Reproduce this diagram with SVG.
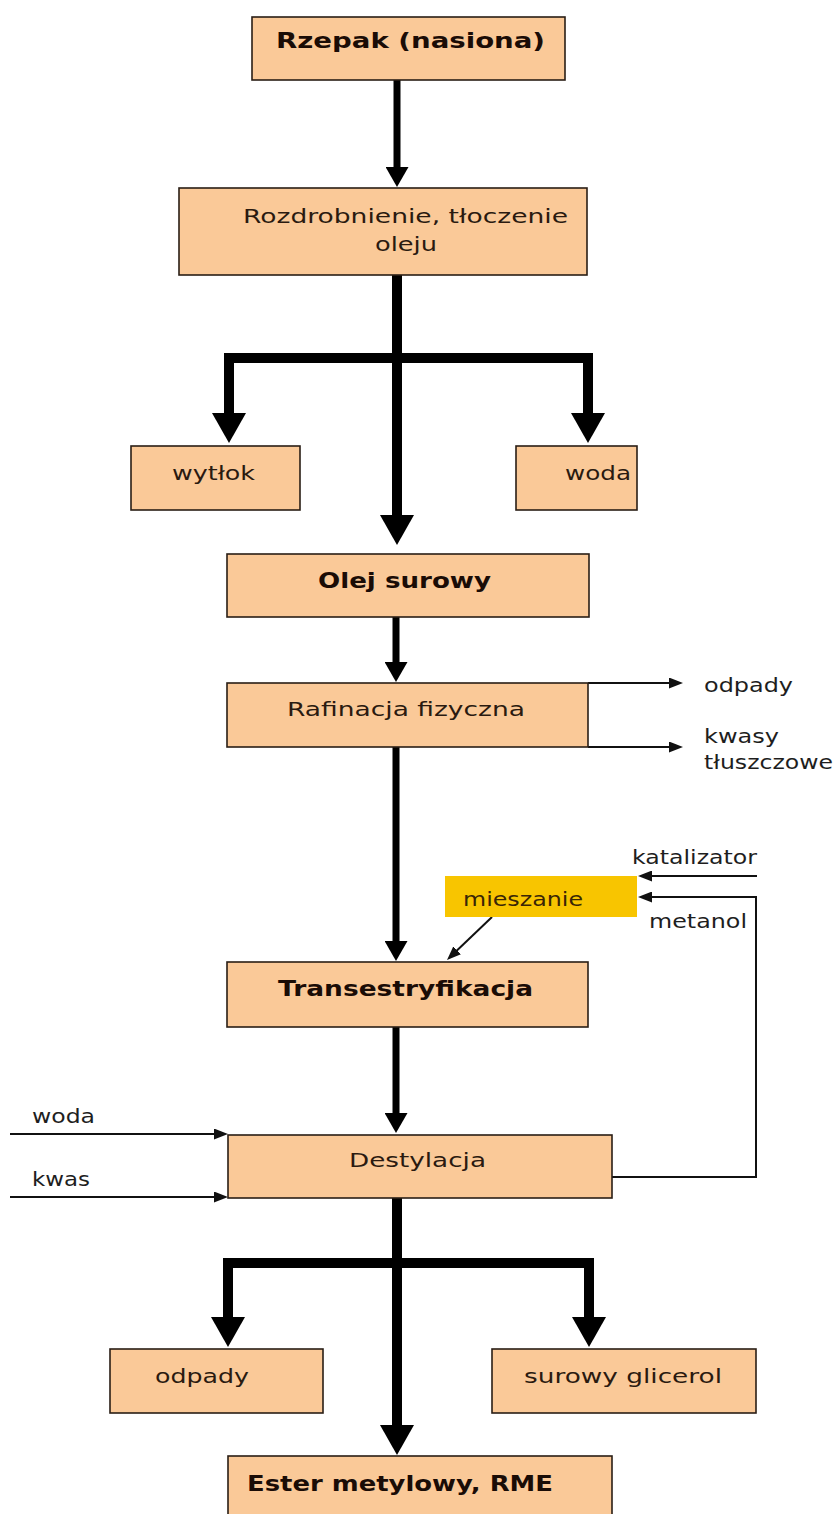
<svg xmlns="http://www.w3.org/2000/svg" width="836" height="1514" viewBox="0 0 836 1514">
<defs>
<style>
.box{fill:#FAC998;stroke:#2a1e16;stroke-width:1.6}
.mix{fill:#F8C500;stroke:none}
.t{font-family:"DejaVu Sans","Liberation Sans",sans-serif;font-size:20px;fill:#2a1a10}
.b{font-family:"DejaVu Sans","Liberation Sans",sans-serif;font-size:21px;font-weight:bold;fill:#1a0c06}
.lbl{font-family:"DejaVu Sans","Liberation Sans",sans-serif;font-size:20px;fill:#1e1e1e}
.thick{fill:none;stroke:#000;stroke-width:10;stroke-linejoin:miter}
.mid{fill:none;stroke:#000;stroke-width:7}
.thin{fill:none;stroke:#111;stroke-width:2}
</style>
<marker id="ahBig" markerUnits="userSpaceOnUse" viewBox="0 0 30 34" refX="1" refY="17" markerWidth="30" markerHeight="34" orient="auto"><path d="M0,0 L30,17 L0,34 z" fill="#000"/></marker>
<marker id="ahMid" markerUnits="userSpaceOnUse" viewBox="0 0 20 23" refX="1" refY="11.5" markerWidth="20" markerHeight="23" orient="auto"><path d="M0,0 L20,11.5 L0,23 z" fill="#000"/></marker>
<marker id="ahSm" markerUnits="userSpaceOnUse" viewBox="0 0 14 11" refX="1" refY="5.5" markerWidth="14" markerHeight="11" orient="auto"><path d="M0,0 L14,5.5 L0,11 z" fill="#111"/></marker>
</defs>
<rect width="836" height="1514" fill="#fff"/>

<g id="connectors">
<path class="mid" d="M397,80 V168" marker-end="url(#ahMid)"/>
<path class="thick" d="M397,275 V516" marker-end="url(#ahBig)"/>
<path class="thick" d="M397,358 H229 V414" marker-end="url(#ahBig)"/>
<path class="thick" d="M397,358 H588 V414" marker-end="url(#ahBig)"/>
<path class="mid" d="M396,617 V663" marker-end="url(#ahMid)"/>
<path class="thin" d="M588,683 H670" marker-end="url(#ahSm)"/>
<path class="thin" d="M588,747 H670" marker-end="url(#ahSm)"/>
<path class="mid" d="M396,747 V942" marker-end="url(#ahMid)"/>
<path class="thin" d="M757,876 H651" marker-end="url(#ahSm)"/>
<path class="thin" d="M612,1177 H756 V897 H651" marker-end="url(#ahSm)"/>
<path class="thin" d="M492,917 L456.4,951" stroke-width="1.6" marker-end="url(#ahSm)"/>
<path class="mid" d="M396,1027 V1114" marker-end="url(#ahMid)"/>
<path class="thin" d="M10,1134 H215" marker-end="url(#ahSm)"/>
<path class="thin" d="M10,1197 H215" marker-end="url(#ahSm)"/>
<path class="thick" d="M397,1198 V1426" marker-end="url(#ahBig)"/>
<path class="thick" d="M397,1263 H228 V1318" marker-end="url(#ahBig)"/>
<path class="thick" d="M397,1263 H589 V1318" marker-end="url(#ahBig)"/>
</g>

<g id="n-rzepak"><rect class="box" x="252" y="17" width="313" height="63"/><text class="b" x="276" y="48" textLength="269" lengthAdjust="spacingAndGlyphs">Rzepak (nasiona)</text></g>
<g id="n-rozdrobnienie"><rect class="box" x="179" y="188" width="408" height="87"/><text class="t" x="243" y="223" textLength="325" lengthAdjust="spacingAndGlyphs">Rozdrobnienie, tłoczenie</text><text class="t" x="375" y="251" textLength="62" lengthAdjust="spacingAndGlyphs">oleju</text></g>
<g id="n-wytlok"><rect class="box" x="131" y="446" width="169" height="64"/><text class="t" x="172" y="480" textLength="83" lengthAdjust="spacingAndGlyphs">wytłok</text></g>
<g id="n-woda1"><rect class="box" x="516" y="446" width="121" height="64"/><text class="t" x="565" y="480" textLength="66" lengthAdjust="spacingAndGlyphs">woda</text></g>
<g id="n-olej"><rect class="box" x="227" y="554" width="362" height="63"/><text class="b" x="318" y="588" textLength="173" lengthAdjust="spacingAndGlyphs">Olej surowy</text></g>
<g id="n-rafinacja"><rect class="box" x="227" y="683" width="361" height="64"/><text class="t" x="287" y="716" textLength="238" lengthAdjust="spacingAndGlyphs">Rafinacja fizyczna</text></g>
<g id="n-odpady1"><text class="lbl" x="704" y="692" textLength="89" lengthAdjust="spacingAndGlyphs">odpady</text></g>
<g id="n-kwasy"><text class="lbl" x="704" y="743" textLength="75" lengthAdjust="spacingAndGlyphs">kwasy</text><text class="lbl" x="704" y="769" textLength="129" lengthAdjust="spacingAndGlyphs">tłuszczowe</text></g>
<g id="n-katalizator"><text class="lbl" x="632" y="864" textLength="125" lengthAdjust="spacingAndGlyphs">katalizator</text></g>
<g id="n-mieszanie"><rect class="mix" x="445" y="876" width="192" height="41"/><text class="t" x="463" y="906" textLength="120" lengthAdjust="spacingAndGlyphs" style="fill:#3a2606">mieszanie</text></g>
<g id="n-metanol"><text class="lbl" x="649" y="928" textLength="98" lengthAdjust="spacingAndGlyphs">metanol</text></g>
<g id="n-transestryfikacja"><rect class="box" x="227" y="962" width="361" height="65"/><text class="b" x="278" y="996" textLength="255" lengthAdjust="spacingAndGlyphs">Transestryfikacja</text></g>
<g id="n-woda2"><text class="lbl" x="32" y="1123" textLength="63" lengthAdjust="spacingAndGlyphs">woda</text></g>
<g id="n-kwas"><text class="lbl" x="32" y="1186" textLength="58" lengthAdjust="spacingAndGlyphs">kwas</text></g>
<g id="n-destylacja"><rect class="box" x="228" y="1135" width="384" height="63"/><text class="t" x="349" y="1167" textLength="137" lengthAdjust="spacingAndGlyphs">Destylacja</text></g>
<g id="n-odpady2"><rect class="box" x="110" y="1349" width="213" height="64"/><text class="t" x="155" y="1383" textLength="94" lengthAdjust="spacingAndGlyphs">odpady</text></g>
<g id="n-glicerol"><rect class="box" x="492" y="1349" width="264" height="64"/><text class="t" x="524" y="1383" textLength="198" lengthAdjust="spacingAndGlyphs">surowy glicerol</text></g>
<g id="n-ester"><rect class="box" x="228" y="1456" width="384" height="62"/><text class="b" x="247" y="1491" textLength="306" lengthAdjust="spacingAndGlyphs">Ester metylowy, RME</text></g>
</svg>
